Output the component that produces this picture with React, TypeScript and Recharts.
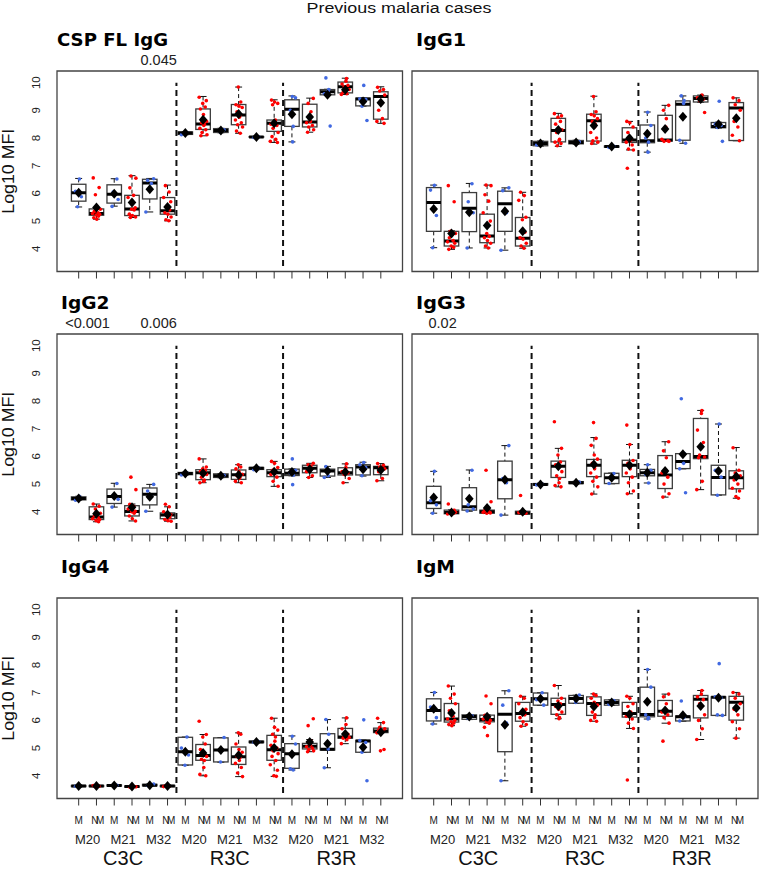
import React from "react";
import {
  ComposedChart,
  Bar,
  Scatter,
  XAxis,
  YAxis,
  ReferenceLine,
  ReferenceArea,
  ReferenceDot,
} from "recharts";

// categories
const GROUPS = ["C3C", "R3C", "R3R"];
const TIMES = ["M20", "M21", "M32"];
const STATUS = ["M", "NM"];
const Y_TICKS = [4, 5, 6, 7, 8, 9, 10];

// jitter offsets (in box units) reused for the strip points
const JITTER = [0.04, -0.18, 0.15, -0.06, 0.22, -0.12, 0.09, -0.22, 0.18, -0.02, 0.12, -0.15, 0.02, 0.2, -0.09, 0.07];

// stats per box: [lower whisker, q1, median, q3, upper whisker, mean]
const CSP_STATS = [
  [5.51, 5.72, 6.02, 6.33, 6.54, 6.02], [5.07, 5.21, 5.27, 5.44, 5.46, 5.49],
  [5.54, 5.65, 5.97, 6.31, 6.53, 5.99], [5.13, 5.2, 5.44, 5.93, 6.64, 5.67],
  [5.33, 5.8, 6.38, 6.51, 6.54, 6.15], [5.01, 5.25, 5.37, 5.85, 6.3, 5.51],
  [8.12, 8.13, 8.18, 8.22, 8.23, 8.18], [8.08, 8.31, 8.51, 9.05, 9.5, 8.66],
  [8.19, 8.2, 8.27, 8.34, 8.35, 8.27], [8.17, 8.48, 8.83, 9.21, 9.84, 8.87],
  [8.02, 8.03, 8.04, 8.05, 8.06, 8.04], [7.84, 8.24, 8.53, 8.65, 9.38, 8.53],
  [7.86, 8.42, 9.04, 9.38, 9.52, 8.86], [8.21, 8.4, 8.58, 9.22, 9.44, 8.76],
  [9.55, 9.56, 9.67, 9.75, 9.76, 9.56], [9.57, 9.63, 9.85, 10.02, 10.16, 9.74],
  [9.15, 9.16, 9.41, 9.44, 9.45, 9.32], [8.53, 8.68, 9.5, 9.67, 9.85, 9.27],
];
const CSP_POINTS = [
  [6.52, 6.08, 5.88, 5.52],
  [6.56, 6.21, 5.95, 5.43, 5.35, 5.3, 5.27, 5.25, 5.22, 5.18, 5.12, 5.07],
  [6.52, 6.05, 5.78, 5.53],
  [6.63, 6.55, 6.2, 5.93, 5.85, 5.48, 5.43, 5.4, 5.25, 5.2, 5.15, 5.13],
  [6.53, 6.47, 6.36, 5.33],
  [6.28, 6.05, 5.85, 5.7, 5.55, 5.4, 5.3, 5.25, 5.15, 5.05, 5.01],
  [8.2, 8.12],
  [9.47, 9.35, 9.25, 9.12, 9.05, 8.85, 8.6, 8.55, 8.5, 8.45, 8.35, 8.3, 8.2, 8.12, 8.08],
  [8.3, 8.2],
  [9.84, 9.3, 9.2, 9.15, 9.1, 8.95, 8.8, 8.75, 8.65, 8.55, 8.48, 8.4, 8.25, 8.17],
  [8.04, 8.02],
  [9.37, 9.3, 9.25, 9.2, 8.65, 8.55, 8.5, 8.45, 8.35, 8.2, 8.05, 7.95, 7.88, 7.84],
  [9.5, 9.45, 9.0, 8.42, 7.86],
  [9.43, 9.25, 8.95, 8.6, 8.55, 8.45, 8.4, 8.3, 8.21],
  [10.17, 9.75, 9.7, 9.6, 8.43],
  [10.15, 10.05, 9.95, 9.9, 9.85, 9.75, 9.65, 9.6, 9.57],
  [9.9, 9.42, 9.4, 9.15, 8.63],
  [9.83, 9.75, 9.7, 9.55, 9.0, 8.7, 8.6, 8.53],
];
const CSP_P = [{ pair: 2, text: "0.045" }];

const IGG1_STATS = [
  [4.04, 4.63, 5.67, 6.21, 6.3, 5.44], [3.98, 4.1, 4.28, 4.63, 4.65, 4.55],
  [4.03, 4.62, 5.46, 6.03, 6.36, 5.32], [4.03, 4.22, 4.46, 5.25, 6.3, 4.84],
  [3.95, 4.63, 5.63, 6.08, 6.2, 5.36], [4.02, 4.1, 4.38, 5.13, 6.04, 4.63],
  [7.71, 7.72, 7.8, 7.88, 7.89, 7.8], [7.7, 7.86, 8.27, 8.71, 8.89, 8.29],
  [7.78, 7.79, 7.84, 7.91, 7.92, 7.84], [7.78, 7.89, 8.62, 8.86, 9.51, 8.45],
  [7.66, 7.67, 7.69, 7.71, 7.72, 7.69], [7.57, 7.84, 7.93, 8.37, 8.6, 7.99],
  [7.49, 7.83, 7.9, 8.47, 8.94, 8.15], [7.88, 7.89, 7.93, 8.82, 9.18, 8.33],
  [7.81, 7.92, 9.22, 9.34, 9.52, 8.77], [9.29, 9.3, 9.43, 9.52, 9.55, 9.41],
  [8.36, 8.37, 8.42, 8.56, 8.57, 8.5], [7.9, 7.91, 9.08, 9.28, 9.45, 8.71],
];
const IGG1_POINTS = [
  [6.29, 6.12, 5.2, 4.04],
  [6.28, 5.7, 4.63, 4.55, 4.4, 4.3, 4.25, 4.2, 4.1, 4.05, 3.98],
  [6.35, 5.7, 5.3, 4.03],
  [6.3, 6.28, 5.95, 5.72, 5.3, 5.0, 4.55, 4.45, 4.4, 4.3, 4.2, 4.1, 4.03],
  [6.2, 6.1, 5.3, 3.95],
  [6.04, 5.92, 5.75, 5.14, 5.05, 4.6, 4.4, 4.35, 4.2, 4.1, 4.02],
  [7.82, 7.75],
  [8.88, 8.8, 8.75, 8.6, 8.5, 8.35, 8.3, 8.2, 7.95, 7.9, 7.85, 7.8, 7.72],
  [7.86, 7.8],
  [9.5, 8.95, 8.85, 8.8, 8.7, 8.6, 8.5, 8.4, 8.2, 8.0, 7.9, 7.85, 7.8],
  [7.7, 7.66],
  [8.6, 8.55, 8.4, 8.2, 7.95, 7.9, 7.85, 7.75, 7.6, 7.57, 6.91],
  [8.93, 8.45, 8.0, 7.85, 7.49],
  [9.18, 9.0, 8.7, 8.4, 7.95, 7.9, 7.88, 7.88],
  [9.52, 9.35, 9.25, 7.92, 7.81],
  [9.55, 9.5, 9.45, 9.4, 9.35, 8.92],
  [9.33, 8.5, 8.45, 8.38, 7.88],
  [9.45, 9.35, 9.2, 9.0, 8.6, 8.4, 8.1, 7.9],
];
const IGG1_P: { pair: number; text: string }[] = [];

const IGG2_STATS = [
  [4.42, 4.43, 4.48, 4.54, 4.56, 4.48], [3.64, 3.72, 3.81, 4.18, 4.28, 3.93],
  [4.17, 4.3, 4.55, 4.82, 5.03, 4.57], [3.67, 3.85, 4.01, 4.22, 4.28, 4.16],
  [4.02, 4.25, 4.63, 4.86, 4.99, 4.54], [3.66, 3.75, 3.88, 3.96, 4.18, 3.9],
  [5.33, 5.34, 5.38, 5.42, 5.43, 5.38], [5.05, 5.16, 5.41, 5.52, 5.91, 5.39],
  [5.23, 5.24, 5.3, 5.37, 5.38, 5.3], [5.05, 5.17, 5.34, 5.51, 5.7, 5.33],
  [5.52, 5.53, 5.57, 5.6, 5.61, 5.57], [4.92, 5.27, 5.41, 5.52, 5.82, 5.45],
  [5.3, 5.31, 5.39, 5.54, 5.55, 5.44], [5.24, 5.41, 5.57, 5.68, 5.75, 5.54],
  [5.24, 5.29, 5.47, 5.54, 5.64, 5.47], [5.05, 5.33, 5.41, 5.59, 5.73, 5.44],
  [5.29, 5.33, 5.62, 5.7, 5.79, 5.54], [5.12, 5.34, 5.59, 5.64, 5.74, 5.51],
];
const IGG2_POINTS = [
  [4.56, 4.42],
  [4.28, 4.2, 4.1, 3.95, 3.85, 3.8, 3.75, 3.72, 3.68, 3.64],
  [5.02, 4.6, 4.45, 4.17],
  [5.25, 4.8, 4.27, 4.2, 4.1, 4.02, 4.0, 3.95, 3.85, 3.75, 3.67],
  [4.99, 4.75, 4.55, 4.02],
  [4.27, 4.18, 4.0, 3.9, 3.85, 3.8, 3.72, 3.68, 3.66],
  [5.4, 5.33],
  [5.91, 5.62, 5.55, 5.5, 5.45, 5.4, 5.35, 5.25, 5.15, 5.1, 5.05],
  [5.32, 5.25],
  [5.7, 5.62, 5.55, 5.45, 5.35, 5.3, 5.25, 5.2, 5.1, 5.05],
  [5.58, 5.52],
  [5.82, 5.75, 5.6, 5.5, 5.45, 5.4, 5.35, 5.25, 5.1, 4.92],
  [5.91, 5.5, 5.4, 5.32, 4.98],
  [5.75, 5.7, 5.65, 5.55, 5.45, 5.3, 5.24],
  [5.63, 5.5, 5.3, 5.24],
  [5.73, 5.6, 5.45, 5.4, 5.35, 5.2, 5.05],
  [5.78, 5.7, 5.6, 5.3],
  [5.74, 5.68, 5.62, 5.55, 5.45, 5.2, 5.12],
];
const IGG2_P = [
  { pair: 0, text: "<0.001" },
  { pair: 2, text: "0.006" },
];

const IGG3_STATS = [
  [3.95, 4.12, 4.33, 4.92, 5.46, 4.52], [3.92, 3.93, 3.97, 4.06, 4.07, 3.97],
  [4.02, 4.06, 4.18, 4.87, 5.51, 4.47], [3.94, 3.95, 4.0, 4.06, 4.07, 4.14],
  [3.88, 4.47, 5.16, 5.83, 6.39, 5.16], [3.91, 3.92, 3.96, 4.02, 4.03, 4.0],
  [4.96, 4.97, 4.99, 5.02, 5.03, 4.99], [4.9, 5.24, 5.64, 5.83, 6.29, 5.64],
  [5.01, 5.02, 5.05, 5.09, 5.1, 5.05], [4.64, 5.27, 5.68, 5.89, 6.68, 5.71],
  [5.01, 5.02, 5.23, 5.39, 5.4, 5.23], [4.65, 5.27, 5.68, 5.86, 6.43, 5.68],
  [5.04, 5.3, 5.41, 5.53, 5.7, 5.41], [4.53, 4.84, 5.33, 6.03, 6.53, 5.47],
  [5.55, 5.56, 5.82, 6.1, 6.11, 6.08], [4.8, 5.92, 6.0, 7.37, 7.66, 6.35],
  [4.6, 4.61, 5.24, 5.68, 7.17, 5.47], [4.49, 4.83, 5.23, 5.48, 6.32, 5.27],
];
const IGG3_POINTS = [
  [5.46, 4.4, 4.25, 3.95],
  [4.28, 4.05, 4.0, 3.98, 3.96, 3.94, 3.92],
  [5.5, 4.25, 4.1, 4.03],
  [5.5, 4.36, 4.05, 4.0, 3.98, 3.96, 3.95],
  [6.39, 5.2, 5.05, 3.88],
  [4.59, 4.0, 3.97, 3.95, 3.93],
  [5.0, 4.97],
  [7.25, 6.29, 6.05, 5.8, 5.7, 5.6, 5.45, 5.3, 5.2, 5.05, 4.95, 4.9],
  [5.07, 5.03],
  [7.22, 6.65, 6.4, 6.05, 5.9, 5.75, 5.65, 5.55, 5.4, 5.25, 5.1, 4.9, 4.64],
  [5.38, 5.02],
  [7.13, 6.43, 5.85, 5.75, 5.65, 5.55, 5.4, 5.25, 5.05, 4.75, 4.65],
  [5.7, 5.5, 5.35, 5.04],
  [6.53, 6.2, 5.95, 5.5, 5.4, 5.25, 5.0, 4.65, 4.53],
  [8.08, 6.1, 5.75, 5.55, 4.69],
  [7.66, 7.55, 6.95, 6.5, 6.05, 5.98, 5.95, 5.1, 4.8],
  [7.17, 5.5, 5.25, 4.6],
  [6.31, 5.5, 5.4, 5.3, 5.15, 5.0, 4.85, 4.75, 4.55, 4.49],
];
const IGG3_P = [{ pair: 0, text: "0.02" }];

const IGG4_STATS = [
  [3.6, 3.61, 3.63, 3.65, 3.66, 3.63], [3.6, 3.61, 3.63, 3.65, 3.66, 3.63],
  [3.62, 3.63, 3.65, 3.67, 3.68, 3.65], [3.58, 3.59, 3.61, 3.63, 3.64, 3.61],
  [3.63, 3.64, 3.66, 3.69, 3.7, 3.66], [3.6, 3.61, 3.63, 3.65, 3.66, 3.63],
  [4.38, 4.39, 4.87, 5.39, 5.4, 4.87], [4.0, 4.56, 4.73, 5.13, 5.49, 4.82],
  [4.49, 4.5, 4.93, 5.37, 5.38, 4.93], [3.97, 4.41, 4.69, 5.04, 5.55, 4.74],
  [5.19, 5.2, 5.22, 5.25, 5.26, 5.22], [3.98, 4.56, 4.94, 5.46, 6.08, 5.0],
  [4.21, 4.27, 4.8, 5.16, 5.44, 4.78], [4.87, 4.97, 5.07, 5.17, 5.31, 5.22],
  [4.29, 4.93, 4.96, 5.52, 6.03, 5.16], [5.16, 5.36, 5.4, 5.71, 6.09, 5.51],
  [4.84, 4.85, 5.26, 5.28, 5.29, 5.03], [5.55, 5.56, 5.62, 5.72, 5.92, 5.57],
];
const IGG4_POINTS = [
  [3.64, 3.62],
  [3.65, 3.62, 3.6],
  [3.66, 3.64],
  [3.62, 3.6, 3.59],
  [3.7, 3.65],
  [3.64, 3.62, 3.61],
  [5.4, 5.0, 4.75, 4.38],
  [5.97, 5.49, 5.4, 5.15, 4.95, 4.8, 4.7, 4.6, 4.55, 4.3, 4.05, 4.0],
  [5.38, 4.5],
  [5.55, 5.5, 5.15, 4.95, 4.85, 4.7, 4.65, 4.55, 4.45, 4.3, 4.1, 3.97],
  [5.24, 5.21],
  [6.08, 5.75, 5.65, 5.5, 5.4, 5.25, 5.1, 5.0, 4.9, 4.8, 4.7, 4.55, 4.4, 4.2, 4.0, 3.98],
  [5.43, 5.15, 4.25, 4.21],
  [6.06, 5.81, 5.25, 5.1, 5.05, 5.0, 4.95, 4.9, 4.87],
  [6.03, 5.5, 4.97, 4.29],
  [6.09, 5.85, 5.7, 5.5, 5.42, 5.38, 5.36, 5.3, 5.16],
  [6.02, 5.27, 5.2, 4.85, 3.82],
  [6.08, 5.92, 5.75, 5.7, 5.65, 5.6, 5.55, 4.95, 4.9],
];
const IGG4_P: { pair: number; text: string }[] = [];

const IGM_STATS = [
  [5.87, 5.98, 6.36, 6.78, 7.01, 6.42], [5.81, 5.94, 6.05, 6.61, 7.24, 6.27],
  [6.03, 6.04, 6.14, 6.2, 6.21, 6.14], [5.9, 5.95, 6.03, 6.19, 6.2, 6.13],
  [3.82, 4.87, 6.22, 6.82, 7.07, 5.84], [5.79, 5.97, 6.25, 6.65, 6.87, 6.29],
  [6.54, 6.55, 6.78, 6.99, 7.0, 6.78], [6.06, 6.22, 6.57, 6.8, 7.26, 6.52],
  [6.61, 6.62, 6.79, 6.9, 6.91, 6.79], [5.97, 6.18, 6.61, 6.85, 6.96, 6.5],
  [6.54, 6.55, 6.65, 6.74, 6.75, 6.65], [5.71, 6.12, 6.25, 6.65, 6.87, 6.22],
  [6.05, 6.13, 6.21, 7.2, 7.84, 6.67], [5.9, 6.15, 6.33, 6.72, 6.95, 6.36],
  [5.97, 5.98, 6.13, 6.16, 6.17, 6.19], [5.31, 6.09, 6.76, 6.9, 7.08, 6.52],
  [6.17, 6.18, 6.84, 6.85, 6.86, 6.82], [5.36, 6.01, 6.66, 6.87, 7.01, 6.45],
];
const IGM_POINTS = [
  [7.01, 6.48, 6.1, 5.87],
  [7.24, 6.95, 6.8, 6.6, 6.35, 6.15, 6.05, 6.0, 5.95, 5.9, 5.85, 5.81],
  [6.17, 6.07],
  [6.88, 6.6, 6.18, 6.1, 6.05, 6.0, 5.95, 5.9, 5.75, 5.45],
  [7.07, 6.55, 5.9, 3.82],
  [6.87, 6.8, 6.6, 6.4, 6.3, 6.2, 6.1, 5.95, 5.85, 5.79],
  [7.0, 6.75, 6.55],
  [7.26, 6.8, 6.7, 6.6, 6.5, 6.4, 6.3, 6.2, 6.1, 6.06],
  [6.92, 6.65],
  [6.95, 6.9, 6.8, 6.65, 6.55, 6.3, 6.2, 6.1, 6.0, 5.97],
  [6.72, 6.58],
  [6.87, 6.8, 6.6, 6.5, 6.3, 6.2, 6.15, 6.05, 5.9, 5.71, 3.85],
  [7.84, 7.2, 6.2, 6.1, 6.05],
  [6.95, 6.85, 6.6, 6.4, 6.3, 6.2, 6.1, 5.9, 5.25],
  [6.7, 6.15, 6.1, 5.98],
  [7.08, 6.95, 6.85, 6.75, 6.6, 6.2, 6.0, 5.7, 5.31],
  [8.05, 6.85, 6.82, 6.2, 6.18],
  [7.01, 6.95, 6.8, 6.6, 6.4, 6.2, 5.95, 5.7, 5.36],
];
const IGM_P: { pair: number; text: string }[] = [];

const PANELS = [
  { title: "CSP FL IgG", stats: CSP_STATS, points: CSP_POINTS, pvals: CSP_P },
  { title: "IgG1", stats: IGG1_STATS, points: IGG1_POINTS, pvals: IGG1_P },
  { title: "IgG2", stats: IGG2_STATS, points: IGG2_POINTS, pvals: IGG2_P },
  { title: "IgG3", stats: IGG3_STATS, points: IGG3_POINTS, pvals: IGG3_P },
  { title: "IgG4", stats: IGG4_STATS, points: IGG4_POINTS, pvals: IGG4_P },
  { title: "IgM", stats: IGM_STATS, points: IGM_POINTS, pvals: IGM_P },
];

// layout
const FONT = '"Liberation Sans", Arial, Helvetica, sans-serif';
const TITLE_FONT = '"DejaVu Sans", Verdana, sans-serif';
const BLUE = "#4169E1";
const RED = "#FF0000";
const BOX_W = 14.5;
const PLOT_H = 200.5;
const ROW_TOPS = [71, 334.3, 597.7];
const TITLE_WIDTH: Record<string, number> = {
  "CSP FL IgG": 111,
  IgG1: 50,
  IgG2: 48.5,
  IgG3: 50,
  IgG4: 48.5,
  IgM: 39,
};
const X_DOMAIN: [number, number] = [-0.22, 19.22];
const Y_DOMAIN: [number, number] = [3.18, 10.42];
const BOX_TICKS = Array.from({ length: GROUPS.length * TIMES.length * STATUS.length }, (_, i) => i + 1);
const TIME_TICKS = Array.from({ length: GROUPS.length * TIMES.length }, (_, i) => i * 2 + 1.5);
const ALL_TICKS = [...BOX_TICKS, ...TIME_TICKS].sort((a, b) => a - b);
const SEPARATORS = [1, 2].map((g) => g * 6 + 0.5);

const BoxShape = (props: any) => {
  const { x, y, width, height, payload } = props;
  const [lo, hi] = payload.range;
  const k = height / (hi - lo);
  const py = (v: number) => y + (hi - v) * k;
  const cx = x + width / 2;
  const bx = cx - BOX_W / 2;
  const sw = BOX_W * 0.24;
  const top = py(payload.q3);
  const bot = py(payload.q1);
  return (
    <g>
      <line x1={cx} x2={cx} y1={py(hi)} y2={top} stroke="#111" strokeDasharray="4 3" />
      <line x1={cx} x2={cx} y1={bot} y2={py(lo)} stroke="#111" strokeDasharray="4 3" />
      <line x1={cx - sw} x2={cx + sw} y1={py(hi)} y2={py(hi)} stroke="#111" />
      <line x1={cx - sw} x2={cx + sw} y1={py(lo)} y2={py(lo)} stroke="#111" />
      <rect x={bx} y={top} width={BOX_W} height={Math.max(bot - top, 0.5)} fill="none" stroke="#3c3c3c" strokeWidth={1.3} />
      <line x1={bx} x2={bx + BOX_W} y1={py(payload.med)} y2={py(payload.med)} stroke="#000" strokeWidth={3} />
    </g>
  );
};

const Diamond = (props: any) => {
  const { cx, cy } = props;
  return <polygon points={`${cx},${cy - 5} ${cx + 4.3},${cy} ${cx},${cy + 5} ${cx - 4.3},${cy}`} fill="#000" />;
};

const dotShape = (color: string) => (props: any) => <circle cx={props.cx} cy={props.cy} r={1.8} fill={color} />;

const YTick = (props: any) => {
  const { x, y, payload } = props;
  return (
    <text transform={`translate(${x - 17},${y}) rotate(-90)`} textAnchor="middle" fontSize={11.5} fontFamily={FONT} fill="#222">
      {payload.value}
    </text>
  );
};

const YLabel = (props: any) => {
  const vb = props.viewBox;
  return (
    <text
      transform={`translate(${vb.x + 14},${vb.y + vb.height / 2}) rotate(-90)`}
      textAnchor="middle"
      fontSize={17}
      fontFamily={FONT}
      fill="#111"
      textLength={85}
      lengthAdjust="spacingAndGlyphs"
    >
      Log10 MFI
    </text>
  );
};

// one bottom axis: integer ticks are boxes (tick mark + M/NM),
// half ticks are pair centres (timepoint label, and group label on the middle pair)
const makeXTick = (withLabels: boolean) => (props: any) => {
  const { x, y, payload } = props;
  const v = payload.value;
  if (Number.isInteger(v)) {
    const label = STATUS[(v - 1) % 2];
    return (
      <g>
        <line x1={x} x2={x} y1={y} y2={y + 7} stroke="#333" />
        {withLabels && (
          <text x={x} y={y + 25} textAnchor="middle" fontSize={10} fontFamily={FONT} fill="#222" letterSpacing={label === "NM" ? -2.5 : 0}>
            {label}
          </text>
        )}
      </g>
    );
  }
  if (!withLabels) return <g />;
  const pair = Math.round((v - 1.5) / 2);
  const t = pair % TIMES.length;
  return (
    <g>
      <text x={x} y={y + 45} textAnchor="middle" fontSize={13} fontFamily={FONT} fill="#222">
        {TIMES[t]}
      </text>
      {t === 1 && (
        <text x={x} y={y + 66} textAnchor="middle" fontSize={20} fontFamily={FONT} fill="#111">
          {GROUPS[Math.floor(pair / TIMES.length)]}
        </text>
      )}
    </g>
  );
};

const Panel = ({ p, col, row }: { p: (typeof PANELS)[number]; col: number; row: number }) => {
  const left = col === 0;
  const bottom = row === 2;
  const plotTop = ROW_TOPS[row];
  const boxes = p.stats.map((s, i) => ({ x: i + 1, range: [s[0], s[4]], q1: s[1], med: s[2], q3: s[3], mean: s[5] }));
  const pts = (status: number) =>
    p.points.flatMap((vals, i) =>
      i % 2 === status ? vals.map((v, j) => ({ x: i + 1 + JITTER[(j + i) % JITTER.length], v })) : []
    );
  const width = left ? 406 : 379;
  const axisH = bottom ? 71 : 10;
  const height = 30 + PLOT_H + axisH;
  return (
    <div style={{ position: "absolute", left: left ? 0 : 380, top: plotTop - 30 }}>
      <ComposedChart
        width={width}
        height={height}
        data={boxes}
        margin={{ top: 30, right: left ? 3.5 : 1, bottom: 0, left: left ? 0 : 32 }}
      >
        <XAxis
          dataKey="x"
          type="number"
          domain={X_DOMAIN}
          allowDataOverflow
          ticks={ALL_TICKS}
          interval={0}
          axisLine={false}
          tickLine={false}
          tickSize={0}
          tickMargin={0}
          height={axisH}
          tick={makeXTick(bottom)}
        />
        {left ? (
          <YAxis
            type="number"
            domain={Y_DOMAIN}
            allowDataOverflow
            ticks={Y_TICKS}
            interval={0}
            width={57}
            axisLine={false}
            tickLine={false}
            tickSize={0}
            tickMargin={0}
            tick={YTick}
            label={<YLabel />}
          />
        ) : (
          <YAxis type="number" domain={Y_DOMAIN} allowDataOverflow hide />
        )}
        <ReferenceArea
          x1={X_DOMAIN[0]}
          x2={X_DOMAIN[1]}
          y1={Y_DOMAIN[0]}
          y2={Y_DOMAIN[1]}
          fill="none"
          stroke="#444"
          strokeWidth={1.3}
          ifOverflow="visible"
        />
        {SEPARATORS.map((sx) => (
          <ReferenceLine
            key={sx}
            segment={[
              { x: sx, y: 3.38 },
              { x: sx, y: 10 },
            ]}
            stroke="#111"
            strokeWidth={2}
            strokeDasharray="6 4"
          />
        ))}
        {p.pvals.map((pv) => (
          <ReferenceDot
            key={pv.text}
            x={pv.pair * 2 + 1.5}
            y={Y_DOMAIN[1]}
            r={0}
            ifOverflow="visible"
            label={{ value: pv.text, position: "top", offset: 5.6, fontSize: 14.5, fill: "#222", fontFamily: FONT }}
          />
        ))}
        <Bar dataKey="range" barSize={14} shape={BoxShape} isAnimationActive={false} />
        <Scatter data={pts(0)} dataKey="v" shape={dotShape(BLUE)} isAnimationActive={false} />
        <Scatter data={pts(1)} dataKey="v" shape={dotShape(RED)} isAnimationActive={false} />
        <Scatter dataKey="mean" shape={Diamond} isAnimationActive={false} />
      </ComposedChart>
    </div>
  );
};

export default function App() {
  return (
    <div style={{ position: "relative", width: 759, height: 869, overflow: "hidden", background: "#fff" }}>
      <style>{"body{margin:0}"}</style>
      {PANELS.map((p, i) => (
        <Panel key={p.title} p={p} col={i % 2} row={Math.floor(i / 2)} />
      ))}
      <svg width={759} height={869} style={{ position: "absolute", left: 0, top: 0, pointerEvents: "none" }}>
        <text
          x={399}
          y={12.5}
          textAnchor="middle"
          fontSize={15.5}
          fontFamily={FONT}
          fill="#111"
          textLength={185}
          lengthAdjust="spacingAndGlyphs"
        >
          Previous malaria cases
        </text>
        {PANELS.map((p, i) => {
          const col = i % 2;
          const row = Math.floor(i / 2);
          const x = col === 0 ? (p.title.startsWith("I") ? 61 : 57) : 416;
          return (
            <text
              key={p.title}
              x={x}
              y={ROW_TOPS[row] - 25}
              fontSize={17}
              fontWeight="bold"
              fontFamily={TITLE_FONT}
              fill="#000"
              textLength={TITLE_WIDTH[p.title]}
              lengthAdjust="spacingAndGlyphs"
            >
              {p.title}
            </text>
          );
        })}
      </svg>
    </div>
  );
}
